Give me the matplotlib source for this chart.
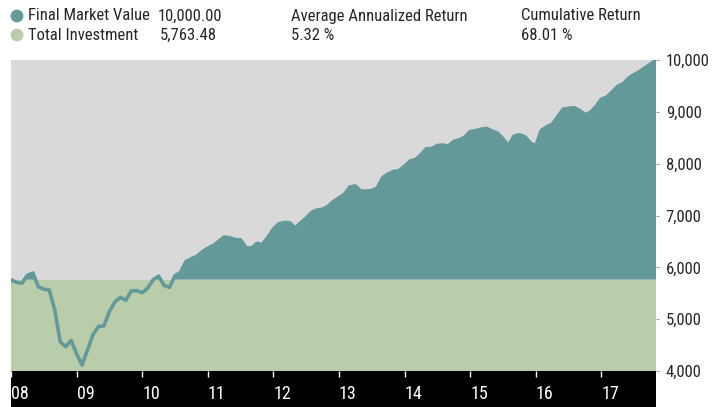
import numpy as np
import matplotlib.pyplot as plt
from matplotlib import font_manager

total_investment = 5763.48
final_value = 10000.00
avg_return = 5.32
cum_return = 68.01

# month-end market value, Jan 2008 .. Nov 2017
values = [
    5760, 5712, 5693, 5845, 5890, 5627, 5578, 5564, 5180, 4566, 4470, 4590,
    4330, 4115, 4410, 4700, 4860, 4871, 5150, 5330, 5420, 5365, 5545, 5550,
    5510, 5600, 5760, 5830, 5650, 5615, 5840, 5900, 6110, 6165, 6210, 6300,
    6370, 6420, 6500, 6585, 6570, 6535, 6530, 6380, 6370, 6460, 6440, 6580,
    6740, 6840, 6865, 6860, 6760, 6860, 6950, 7060, 7108, 7120, 7175, 7270,
    7340, 7410, 7550, 7570, 7470, 7470, 7480, 7530, 7730, 7800, 7850, 7866,
    7950, 8050, 8080, 8170, 8290, 8290, 8350, 8360, 8340, 8430, 8460, 8510,
    8620, 8636, 8665, 8680, 8630, 8590, 8480, 8345, 8530, 8556, 8520, 8400,
    8340, 8640, 8710, 8760, 8900, 9050, 9068, 9080, 9030, 8945, 8990, 9100,
    9245, 9284, 9385, 9490, 9540, 9650, 9720, 9775, 9850, 9920, 10000,
]
years = [2008 + i / 12 for i in range(len(values))]
year_ticks = list(range(2008, 2018))
year_labels = ["08", "09", "10", "11", "12", "13", "14", "15", "16", "17"]
value_ticks = [4000, 5000, 6000, 7000, 8000, 9000, 10000]

teal = "#639999"
green = "#b9cdab"
grey = "#d9d9d9"
ink = "#262626"

# narrow sans to stand in for Univers Condensed
installed = {f.name for f in font_manager.fontManager.ttflist}
family = "DejaVu Sans"
for cand in ["Roboto Condensed", "Archivo Narrow", "Liberation Sans Narrow",
             "Barlow Semi Condensed", "Barlow Condensed"]:
    if cand in installed:
        family = cand
        break
plt.rcParams["font.family"] = [family, "DejaVu Sans"]

W, H = 727, 407
fig = plt.figure(figsize=(W / 100, H / 100), dpi=100)


def rect(l, t, r, b):
    return [l / W, 1 - b / H, (r - l) / W, (b - t) / H]


# header with legend and summary numbers
hdr = fig.add_axes([0, 0, 1, 1])
hdr.set_xlim(0, W)
hdr.set_ylim(H, 0)
hdr.axis("off")
hdr.scatter([17, 17], [16, 35], s=85, color=[teal, green], linewidths=0)
fs = 12
hdr.text(28, 16, "Final Market Value", fontsize=fs, color=ink, va="center")
hdr.text(158, 16, f"{final_value:,.2f}", fontsize=fs, color=ink, va="center")
hdr.text(28, 35, "Total Investment", fontsize=fs, color=ink, va="center")
hdr.text(160, 35, f"{total_investment:,.2f}", fontsize=fs, color=ink, va="center")
hdr.text(291, 16, "Average Annualized Return", fontsize=fs, color=ink, va="center")
hdr.text(291, 35, f"{avg_return:.2f} %", fontsize=fs, color=ink, va="center")
hdr.text(521, 16, "Cumulative Return", fontsize=fs, color=ink, va="center")
hdr.text(521, 35, f"{cum_return:.2f} %", fontsize=fs, color=ink, va="center")

# black date band under the chart
band = fig.add_axes(rect(11, 371, 656, 407))
band.set_facecolor("black")
band.set_xticks([])
band.set_yticks([])
for s in band.spines.values():
    s.set_visible(False)

ax = fig.add_axes(rect(11, 60, 656, 371))
ax.set_facecolor(grey)
ax.set_xlim(years[0], years[-1])
ax.set_ylim(4000, 10000)

v = np.array(values)
ax.axhspan(4000, total_investment, color=green, lw=0)
ax.fill_between(years, total_investment, v, where=v > total_investment,
                interpolate=True, color=teal, lw=0)
ax.plot(years, v, color=teal, lw=2.6)

for s in ax.spines.values():
    s.set_visible(False)

ax.yaxis.tick_right()
ax.set_yticks(value_ticks)
ax.set_yticklabels([f"{t:,}" for t in value_ticks])
ax.tick_params(axis="y", length=2, color="#999999", pad=5, labelsize=12, labelcolor=ink)

ax.set_xticks(year_ticks)
ax.set_xticklabels(year_labels)
ax.tick_params(axis="x", direction="out", length=4, width=1, color="white",
               pad=6, labelsize=13, labelcolor="white")
for lab in ax.get_xticklabels():
    lab.set_ha("left")

fig.savefig("out.png", dpi=100)
